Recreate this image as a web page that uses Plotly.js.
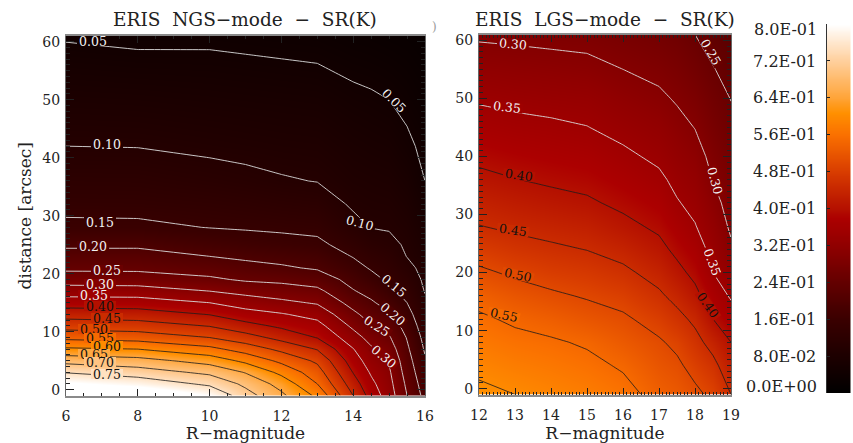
<!DOCTYPE html>
<html><head><meta charset="utf-8">
<script src="https://cdn.plot.ly/plotly-3.0.1.min.js"></script>
<style>html,body{margin:0;padding:0;background:#fff}#c{width:853px;height:443px}</style>
</head><body><div id="c"></div>
<script>
// NGS panel: SR(K)
const ngsMag = [6,8,10,11,12,13,14,14.5,15,15.5,16];
const ngsDist = [-1,1,3,5,7,9,11,13,15,17,19,21,23,25,28,32,36,42,50,61];
const ngsSR = [
[.88,.86,.80,.72,.66,.59,.45,.38,.325,.25,.185],
[.81,.785,.74,.689,.632,.55,.424,.362,.316,.24,.175],
[.747,.724,.689,.647,.587,.522,.398,.344,.307,.229,.165],
[.683,.669,.63,.588,.538,.491,.375,.325,.296,.219,.155],
[.608,.60,.564,.528,.488,.447,.352,.307,.276,.208,.145],
[.537,.528,.50,.471,.434,.398,.321,.282,.255,.197,.136],
[.48,.473,.448,.417,.391,.367,.29,.253,.231,.181,.126],
[.429,.424,.398,.37,.354,.333,.261,.229,.205,.166,.116],
[.376,.374,.35,.327,.311,.295,.232,.206,.182,.15,.107],
[.325,.323,.30,.285,.273,.262,.203,.185,.159,.137,.098],
[.276,.273,.258,.244,.239,.226,.184,.164,.143,.124,.093],
[.24,.24,.228,.216,.206,.195,.165,.146,.132,.111,.088],
[.216,.216,.20,.191,.185,.177,.148,.132,.121,.099,.082],
[.193,.193,.179,.171,.165,.159,.133,.118,.11,.095,.078],
[.159,.158,.149,.146,.143,.14,.111,.099,.097,.088,.07],
[.138,.137,.132,.128,.123,.119,.095,.091,.089,.079,.06],
[.123,.122,.114,.109,.103,.099,.086,.083,.08,.07,.05],
[.10,.099,.093,.09,.087,.085,.074,.07,.067,.056,.043],
[.078,.076,.072,.07,.068,.066,.057,.054,.05,.042,.033],
[.047,.043,.044,.042,.04,.038,.032,.03,.027,.025,.02]];

// LGS panel: SR(K)
const lgsMag = [12,13,14,15,16,17,17.5,18,18.5,19];
const lgsDist = [-1,4,8,12,16,20,24,28,32,36,40,45,50,55,61];
const lgsSR = [
[.61,.60,.59,.58,.565,.535,.525,.51,.49,.45],
[.59,.579,.571,.561,.545,.518,.508,.485,.462,.422],
[.574,.562,.555,.545,.526,.505,.49,.464,.434,.40],
[.557,.543,.533,.52,.507,.483,.463,.441,.40,.371],
[.535,.519,.507,.496,.484,.457,.437,.412,.375,.345],
[.508,.493,.481,.473,.459,.434,.412,.389,.35,.325],
[.48,.466,.457,.449,.435,.412,.39,.371,.337,.306],
[.451,.442,.435,.428,.411,.392,.372,.352,.325,.294],
[.431,.421,.413,.406,.391,.375,.353,.339,.312,.286],
[.41,.401,.394,.388,.374,.358,.34,.327,.299,.278],
[.391,.383,.377,.372,.358,.342,.327,.315,.29,.27],
[.368,.361,.357,.351,.338,.325,.312,.299,.277,.259],
[.345,.34,.336,.333,.319,.307,.296,.284,.265,.249],
[.322,.318,.315,.311,.30,.29,.281,.268,.252,.237],
[.294,.292,.289,.287,.278,.269,.262,.25,.235,.224]];

// Colour bar
const barValues = [0,.08,.16,.24,.32,.4,.48,.56,.64,.72,.8];
const barLabels = ['0.0E+00','8.0E-02','1.6E-01','2.4E-01','3.2E-01','4.0E-01','4.8E-01','5.6E-01','6.4E-01','7.2E-01','8.0E-01'];

// Contour labels: [R-mag, distance, level, rotation]
const ngsLabels = [
[6.76,60.2,.05,0],[15.15,49.8,.05,45],[7.14,42.4,.10,0],[14.2,28.8,.10,15],
[6.96,29,.15,0],[15.15,17.9,.15,40],[6.76,24.7,.20,0],[15.1,13.1,.20,40],
[7.14,20.6,.25,0],[14.66,11,.25,32],[6.96,18.3,.30,0],[14.87,5.7,.30,40],
[6.77,16.3,.35,0],[6.96,14.4,.40,0],[7.14,12.4,.45,0],[6.77,10.5,.50,0],
[6.96,8.9,.55,0],[7.14,7.5,.60,0],[6.77,6.2,.65,0],[6.96,4.7,.70,0],[7.14,2.76,.75,0]];
const lgsLabels = [
[12.94,59.4,.30,5],[18.44,58,.25,60],[12.77,48.5,.35,6],[18.56,35.8,.30,75],
[13.1,36.8,.40,8],[12.95,27.3,.45,8],[13.09,19.6,.50,12],[12.7,12.7,.55,12],
[18.49,21.9,.35,70],[18.36,14.4,.40,55]];

const zmax = .8;
const stops = [[0,'#000000'],[.2,'#3a0000'],[.3,'#630000'],[.4,'#900000'],[.475,'#ac0000'],[.5,'#b41000'],[.6,'#d83c00'],[.7,'#fa7000'],[.76,'#ff9000'],[.8,'#ffa438'],[.9,'#ffcf9c'],[1,'#ffffff']];
function colorAt(v){
  const t=Math.min(1,v/zmax);
  for(let i=1;i<stops.length;i++){
    if(t<=stops[i][0]){
      const a=stops[i-1],b=stops[i],f=(t-a[0])/(b[0]-a[0]);
      const h=(s,k)=>parseInt(s.substr(1+2*k,2),16);
      return 'rgb('+[0,1,2].map(k=>Math.round(h(a[1],k)+(h(b[1],k)-h(a[1],k))*f)).join(',')+')';
    }
  }
  return '#fff';
}
const FONT='"DejaVu Serif", serif', INK='#222';

function panel(x,y,z,xa,ya){
  return [
   {type:'heatmap',x,y,z,xaxis:xa,yaxis:ya,zmin:0,zmax,colorscale:stops,zsmooth:'best',showscale:false,hoverinfo:'skip'},
   {type:'contour',x,y,z,xaxis:xa,yaxis:ya,showscale:false,hoverinfo:'skip',
    contours:{coloring:'none',start:.05,end:.35,size:.05},line:{color:'#dddddd',width:.9,smoothing:0}},
   {type:'contour',x,y,z,xaxis:xa,yaxis:ya,showscale:false,hoverinfo:'skip',
    contours:{coloring:'none',start:.40,end:.75,size:.05},line:{color:'#1c1c1c',width:.8,smoothing:0}}
  ];
}
const W=853,H=443;
const dx=(a,b)=>[a/W,b/W], dy=(top,bot)=>[1-bot/H,1-top/H];
function xax(dom,range,dt,minor,mlen){return {domain:dom,range,dtick:dt,tick0:range[0]%dt,ticks:'inside',ticklen:mlen,tickwidth:1,tickcolor:INK,
  minor:{dtick:minor,ticks:'inside',ticklen:3,tickwidth:1,tickcolor:INK},showgrid:false,zeroline:false,showline:true,linecolor:'#8a8a8a',linewidth:2,mirror:'ticks',
  tickfont:{family:FONT,size:14,color:INK},ticklabelstandoff:7,layer:'above traces',
  title:{text:'R\u2212magnitude',font:{family:FONT,size:17,color:INK},standoff:3}};}
function yax(dom,title){return {domain:dom,range:[-1,61],dtick:10,tick0:0,ticks:'inside',ticklen:8,tickwidth:1,tickcolor:INK,
  minor:{dtick:1,ticks:'inside',ticklen:4,tickwidth:1,tickcolor:INK},showgrid:false,zeroline:false,showline:true,linecolor:'#666',linewidth:1,mirror:'ticks',
  tickfont:{family:FONT,size:14,color:INK},ticklabelstandoff:2,layer:'above traces',
  title:title?{text:title,font:{family:FONT,size:17,color:INK},standoff:6}:undefined};}

function labelAnn(list,xr,yr){
  return list.map(([x,y,lv,ang])=>({xref:xr,yref:yr,x,y,text:lv.toFixed(2),showarrow:false,textangle:ang,
    font:{family:FONT,size:12.5,color:lv<=.35?'#f2f2f2':'#111'},bgcolor:colorAt(lv),borderpad:0,borderwidth:0,width:32,height:10}));
}
const paperText=(text,px,py,size,extra)=>Object.assign({xref:'paper',yref:'paper',x:px/W,y:1-py/H,text,showarrow:false,
  font:{family:FONT,size,color:INK},xanchor:'center',yanchor:'middle'},extra||{});

const traces=[...panel(ngsMag,ngsDist,ngsSR,'x','y'),...panel(lgsMag,lgsDist,lgsSR,'x2','y2'),
 {type:'heatmap',x:[0,1],y:Array.from({length:81},(_,i)=>i/100),z:Array.from({length:81},(_,i)=>[i/100,i/100]),xaxis:'x3',yaxis:'y3',zmin:0,zmax,colorscale:stops,zsmooth:'best',showscale:false,hoverinfo:'skip'}];

const layout={width:W,height:H,margin:{l:0,r:0,t:0,b:0},paper_bgcolor:'#fff',plot_bgcolor:'#fff',showlegend:false,
 xaxis:xax(dx(66,425),[6,16],2,.5,7),
 yaxis:yax(dy(36,395.5),'distance [arcsec]'),
 xaxis2:Object.assign(xax(dx(479,731),[12,19],1,.1,7),{anchor:'y2'}),
 yaxis2:Object.assign(yax(dy(34.5,394.5)),{anchor:'x2'}),
 xaxis3:{domain:dx(826.5,851),range:[0,1],anchor:'y3',visible:false},
 yaxis3:{domain:dy(24,393),range:[0,.8],anchor:'x3',tickvals:barValues,
   ticktext:barLabels.map((t,i)=>(i===0||i===barLabels.length-1)?'':t),ticks:'inside',ticklen:3,tickcolor:INK,
   showline:true,linecolor:'#333',linewidth:1,showgrid:false,zeroline:false,ticklabelstandoff:6,
   tickfont:{family:FONT,size:16,color:INK},layer:'above traces'},
 annotations:[
  paperText('ERIS&nbsp;&nbsp;NGS\u2212mode&nbsp;&nbsp;\u2212&nbsp;&nbsp;SR(K)',245,20,18.5),
  paperText('ERIS&nbsp;&nbsp;LGS\u2212mode&nbsp;&nbsp;\u2212&nbsp;&nbsp;SR(K)',605,19,18.5),
  paperText(')',434,27,12,{font:{family:FONT,size:12,color:'#999'}}),
  paperText(barLabels[10],819,29,16,{xanchor:'right'}),
  paperText(barLabels[0],819,386,16,{xanchor:'right'}),
  ...labelAnn(ngsLabels,'x','y'),...labelAnn(lgsLabels,'x2','y2')
 ]};
Plotly.newPlot('c',traces,layout,{staticPlot:true,displayModeBar:false});
</script></body></html>
